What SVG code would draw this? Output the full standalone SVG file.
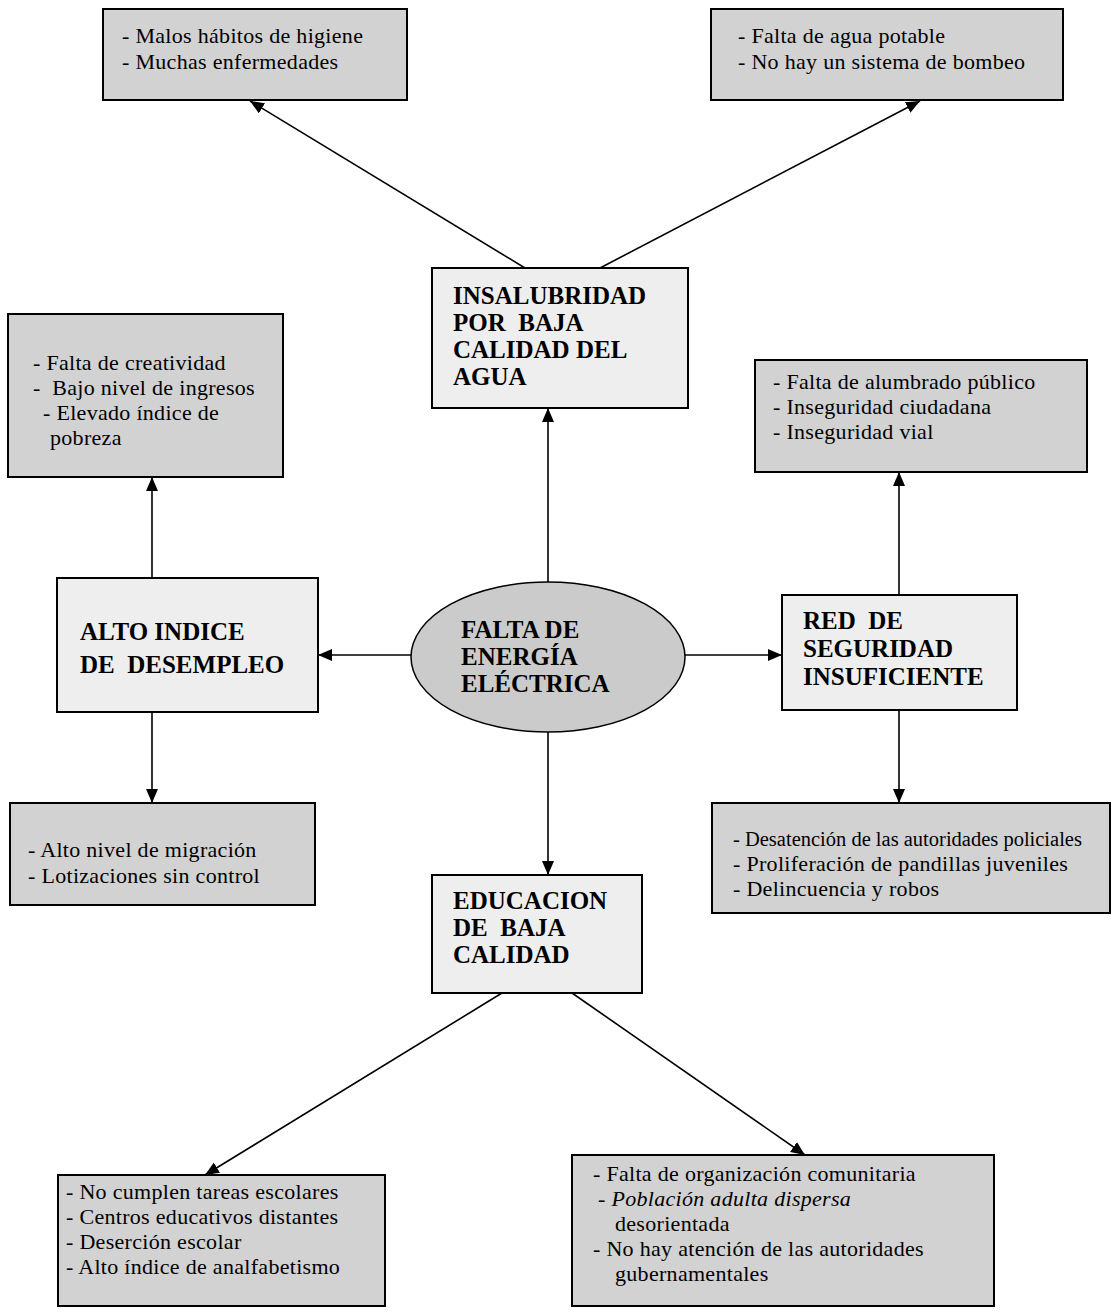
<svg xmlns="http://www.w3.org/2000/svg" width="1112" height="1316" viewBox="0 0 1112 1316">
<defs>
<style>
.list{fill:#d2d2d2;stroke:#000;stroke-width:2}
.main{fill:#eeeeee;stroke:#000;stroke-width:2}
.ell{fill:#cbcbcb;stroke:#000;stroke-width:1.5}
.t{font-family:"Liberation Serif","Times New Roman",serif;font-size:22px;letter-spacing:0.3px;fill:#000}
.b{font-family:"Liberation Serif","Times New Roman",serif;font-size:25px;font-weight:bold;fill:#000}
.c{stroke:#000;stroke-width:1.6;fill:none;marker-end:url(#ah)}
</style>
<marker id="ah" markerUnits="userSpaceOnUse" markerWidth="14" markerHeight="12" refX="14" refY="6" orient="auto">
<path d="M0,0 L14,6 L0,12 z" fill="#000"/>
</marker>
</defs>
<rect width="1112" height="1316" fill="#fff"/>

<g id="connectors">
<line class="c" x1="525" y1="268" x2="250" y2="101"/>
<line class="c" x1="600" y1="268" x2="920" y2="101"/>
<line class="c" x1="548" y1="582" x2="548" y2="408"/>
<line class="c" x1="152" y1="578" x2="152" y2="477"/>
<line class="c" x1="411" y1="655" x2="318" y2="655"/>
<line class="c" x1="152" y1="712" x2="152" y2="803"/>
<line class="c" x1="685" y1="655" x2="782" y2="655"/>
<line class="c" x1="899" y1="595" x2="899" y2="472"/>
<line class="c" x1="899" y1="710" x2="899" y2="803"/>
<line class="c" x1="548" y1="732" x2="548" y2="875"/>
<line class="c" x1="502" y1="993" x2="205" y2="1175"/>
<line class="c" x1="572" y1="993" x2="805" y2="1155"/>
</g>

<g id="higiene">
<rect class="list" x="103" y="9" width="304" height="91"/>
<text class="t" x="122" y="43">- Malos hábitos de higiene</text>
<text class="t" x="122" y="69">- Muchas enfermedades</text>
</g>

<g id="agua">
<rect class="list" x="711" y="9" width="352" height="91"/>
<text class="t" x="738" y="43">- Falta de agua potable</text>
<text class="t" x="738" y="69">- No hay un sistema de bombeo</text>
</g>

<g id="insalubridad">
<rect class="main" x="432" y="268" width="256" height="140"/>
<text class="b" x="453" y="304">INSALUBRIDAD</text>
<text class="b" x="453" y="331" xml:space="preserve">POR  BAJA</text>
<text class="b" x="453" y="358">CALIDAD DEL</text>
<text class="b" x="453" y="385">AGUA</text>
</g>

<g id="creatividad">
<rect class="list" x="8" y="314" width="275" height="163"/>
<text class="t" x="33" y="370">- Falta de creatividad</text>
<text class="t" x="33" y="395" xml:space="preserve">-  Bajo nivel de ingresos</text>
<text class="t" x="43" y="420">- Elevado índice de</text>
<text class="t" x="50" y="445">pobreza</text>
</g>

<g id="alumbrado">
<rect class="list" x="755" y="360" width="332" height="112"/>
<text class="t" x="773" y="389">- Falta de alumbrado público</text>
<text class="t" x="773" y="414">- Inseguridad ciudadana</text>
<text class="t" x="773" y="439">- Inseguridad vial</text>
</g>

<g id="desempleo">
<rect class="main" x="57" y="578" width="261" height="134"/>
<text class="b" x="80" y="640">ALTO INDICE</text>
<text class="b" x="80" y="673" xml:space="preserve">DE  DESEMPLEO</text>
</g>

<g id="energia">
<ellipse class="ell" cx="548" cy="657" rx="137" ry="75"/>
<text class="b" x="461" y="638">FALTA DE</text>
<text class="b" x="461" y="665">ENERGÍA</text>
<text class="b" x="461" y="692">ELÉCTRICA</text>
</g>

<g id="seguridad">
<rect class="main" x="782" y="595" width="235" height="115"/>
<text class="b" x="803" y="629" xml:space="preserve">RED  DE</text>
<text class="b" x="803" y="657">SEGURIDAD</text>
<text class="b" x="803" y="685">INSUFICIENTE</text>
</g>

<g id="migracion">
<rect class="list" x="10" y="803" width="305" height="102"/>
<text class="t" x="28" y="857">- Alto nivel de migración</text>
<text class="t" x="28" y="883">- Lotizaciones sin control</text>
</g>

<g id="policiales">
<rect class="list" x="712" y="803" width="398" height="110"/>
<text class="t" x="733" y="846" style="font-size:20.5px;letter-spacing:0">- Desatención de las autoridades policiales</text>
<text class="t" x="733" y="871">- Proliferación de pandillas juveniles</text>
<text class="t" x="733" y="896">- Delincuencia y robos</text>
</g>

<g id="educacion">
<rect class="main" x="432" y="875" width="210" height="118"/>
<text class="b" x="453" y="909">EDUCACION</text>
<text class="b" x="453" y="936" xml:space="preserve">DE  BAJA</text>
<text class="b" x="453" y="963">CALIDAD</text>
</g>

<g id="escolares">
<rect class="list" x="58" y="1175" width="327" height="131"/>
<text class="t" x="66" y="1199">- No cumplen tareas escolares</text>
<text class="t" x="66" y="1224">- Centros educativos distantes</text>
<text class="t" x="66" y="1249">- Deserción escolar</text>
<text class="t" x="66" y="1274">- Alto índice de analfabetismo</text>
</g>

<g id="comunitaria">
<rect class="list" x="572" y="1155" width="422" height="151"/>
<text class="t" x="593" y="1181">- Falta de organización comunitaria</text>
<text class="t" x="598" y="1206" font-style="italic">- Población adulta dispersa</text>
<text class="t" x="615" y="1231">desorientada</text>
<text class="t" x="593" y="1256">- No hay atención de las autoridades</text>
<text class="t" x="615" y="1281">gubernamentales</text>
</g>
</svg>
